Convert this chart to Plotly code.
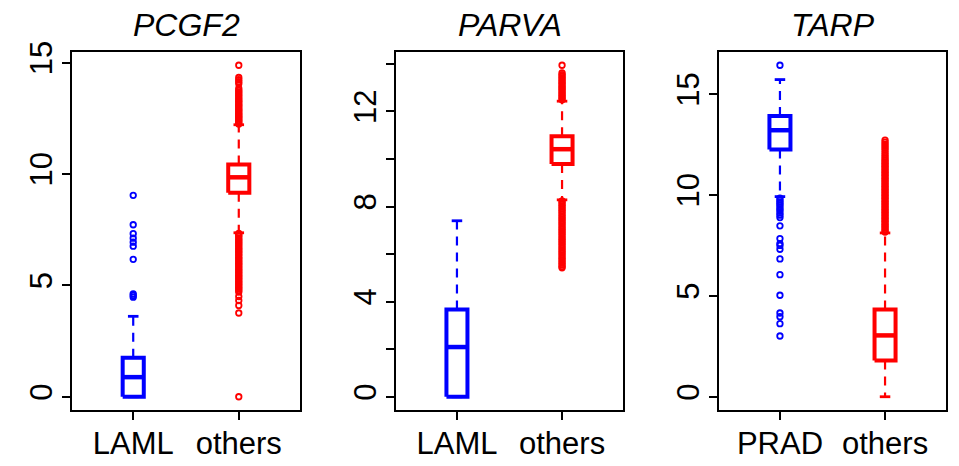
import plotly.graph_objects as go

# Gene panels and the two groups compared in each
genes = ["PCGF2", "PARVA", "TARP"]
group_labels = [["LAML", "others"], ["LAML", "others"], ["PRAD", "others"]]

# Box statistics per group: [lower whisker, Q1, median, Q3, upper whisker]
pcgf2_laml_stats = [0.0, 0.0, 0.88, 1.75, 3.61]
pcgf2_others_stats = [7.36, 9.16, 9.85, 10.43, 12.21]
parva_laml_stats = [0.0, 0.0, 2.09, 3.67, 7.40]
parva_others_stats = [8.28, 9.79, 10.41, 10.95, 12.43]
tarp_prad_stats = [9.92, 12.25, 13.21, 13.91, 15.72]
tarp_others_stats = [0.0, 1.80, 3.04, 4.33, 8.12]

# Outlying expression values per group
pcgf2_laml_out = [4.47, 4.55, 4.62, 6.17, 6.76, 6.94, 7.12, 7.32, 7.72, 9.04]
pcgf2_others_out = [
    12.24, 12.29, 12.35, 12.41, 12.46, 12.52, 12.57, 12.63, 12.69, 12.74,
    12.81, 12.87, 12.92, 12.99, 13.06, 13.11, 13.19, 13.25, 13.31, 13.38,
    13.46, 13.53, 13.6, 13.68, 13.75, 13.84, 14.05, 14.14, 14.23, 14.33,
    14.88,
    7.33, 7.26, 7.21, 7.13, 7.06, 6.99, 6.93, 6.86, 6.8, 6.72, 6.66, 6.59,
    6.52, 6.46, 6.39, 6.32, 6.25, 6.19, 6.12, 6.05, 5.98, 5.92, 5.85, 5.78,
    5.71, 5.65, 5.58, 5.51, 5.44, 5.38, 5.31, 5.24, 5.17, 5.11, 5.04, 4.97,
    4.9, 4.84, 4.77, 4.7, 4.5, 4.32, 4.1, 3.76, 0.0,
]
parva_laml_out = []
parva_others_out = [
    12.49, 12.55, 12.61, 12.67, 12.73, 12.79, 12.86, 12.92, 12.98, 13.04,
    13.1, 13.17, 13.23, 13.29, 13.36, 13.42, 13.49, 13.55, 13.62, 13.94,
    8.24, 8.18, 8.11, 8.04, 7.97, 7.9, 7.83, 7.76, 7.69, 7.61, 7.54, 7.47,
    7.4, 7.33, 7.26, 7.18, 7.11, 7.04, 6.97, 6.9, 6.83, 6.75, 6.68, 6.61,
    6.54, 6.47, 6.4, 6.32, 6.25, 6.18, 6.11, 6.04, 5.97, 5.89, 5.82, 5.75,
    5.68, 5.61, 5.54, 5.47, 5.42,
]
tarp_prad_out = [
    3.01, 3.62, 3.97, 4.15, 5.03, 6.05, 6.83, 7.31, 7.5, 7.59, 7.84, 8.47,
    8.88, 9.0, 9.1, 9.22, 9.3, 9.4, 9.5, 9.58, 9.66, 9.75, 9.84, 16.43,
]
tarp_others_out = [
    8.16, 8.23, 8.3, 8.38, 8.45, 8.52, 8.6, 8.68, 8.75, 8.83, 8.9, 8.98,
    9.06, 9.13, 9.21, 9.28, 9.36, 9.44, 9.51, 9.59, 9.66, 9.74, 9.82, 9.89,
    9.97, 10.04, 10.12, 10.2, 10.27, 10.35, 10.42, 10.5, 10.58, 10.65,
    10.73, 10.8, 10.88, 10.96, 11.03, 11.11, 11.18, 11.26, 11.34, 11.41,
    11.49, 11.56, 11.64, 11.72, 11.8, 11.9, 12.0, 12.1, 12.22, 12.32, 12.42,
    12.52, 12.62, 12.72,
]

# Y-axis ticks per panel (PARVA has minor unlabelled ticks)
y_tickvals = [[0, 5, 10, 15], [0, 2, 4, 6, 8, 10, 12, 14], [0, 5, 10, 15]]
y_ticktext = [["0", "5", "10", "15"], ["0", "", "4", "", "8", "", "12", ""],
              ["0", "5", "10", "15"]]

panel_stats = [[pcgf2_laml_stats, pcgf2_others_stats],
               [parva_laml_stats, parva_others_stats],
               [tarp_prad_stats, tarp_others_stats]]
panel_out = [[pcgf2_laml_out, pcgf2_others_out],
             [parva_laml_out, parva_others_out],
             [tarp_prad_out, tarp_others_out]]

group_colors = ["#0000FF", "#FF0000"]
FONT = "Liberation Sans, Arial, Helvetica, sans-serif"

W, H = 959, 466
x_domains = [[72 / W, 300 / W], [396 / W, 623 / W], [719 / W, 946 / W]]
y_domain = [(H - 410) / H, (H - 52) / H]

half_box = 0.1
half_staple = 0.05

fig = go.Figure()

for p in range(3):
    suffix = "" if p == 0 else str(p + 1)
    xa, ya = "x" + suffix, "y" + suffix
    all_vals = []
    for g in range(2):
        lo, q1, med, q3, hi = panel_stats[p][g]
        outs = panel_out[p][g]
        all_vals += [lo, hi] + outs
        c = g + 1
        col = group_colors[g]
        common = dict(xaxis=xa, yaxis=ya, showlegend=False, hoverinfo="skip")
        # whiskers
        for a, b in ((q3, hi), (q1, lo)):
            if a != b:
                fig.add_trace(go.Scatter(x=[c, c], y=[a, b], mode="lines",
                                         line=dict(color=col, width=2.2, dash="9px,7px"),
                                         **common))
        # staples
        for v in (hi, lo):
            fig.add_trace(go.Scatter(x=[c - half_staple, c + half_staple], y=[v, v],
                                     mode="lines", line=dict(color=col, width=2.8),
                                     **common))
        # box
        fig.add_trace(go.Scatter(
            x=[c - half_box, c + half_box, c + half_box, c - half_box, c - half_box],
            y=[q1, q1, q3, q3, q1], mode="lines",
            line=dict(color=col, width=4), **common))
        # median
        fig.add_trace(go.Scatter(x=[c - half_box, c + half_box], y=[med, med],
                                 mode="lines", line=dict(color=col, width=4.5),
                                 **common))
        # outliers
        if outs:
            fig.add_trace(go.Scatter(
                x=[c] * len(outs), y=outs, mode="markers",
                marker=dict(symbol="circle-open", size=5.5, color=col,
                            line=dict(width=1.8, color=col)),
                **common))

    lo_all, hi_all = min(all_vals), max(all_vals)
    pad = 0.04 * (hi_all - lo_all)

    axis_common = dict(showline=True, mirror=True, linecolor="black", linewidth=2,
                       showgrid=False, zeroline=False, ticks="outside", ticklen=8,
                       tickwidth=2, tickcolor="black", automargin=False,
                       tickfont=dict(family=FONT, size=31, color="black"))
    fig.layout["xaxis" + suffix] = dict(
        domain=x_domains[p], range=[0.42, 2.58], tickvals=[1, 2],
        ticktext=group_labels[p], anchor=ya, fixedrange=True,
        ticklabelstandoff=-3, **axis_common)
    fig.layout["yaxis" + suffix] = dict(
        domain=y_domain, range=[lo_all - pad, hi_all + pad],
        tickvals=y_tickvals[p], ticktext=y_ticktext[p], tickangle=-90,
        anchor=xa, fixedrange=True, ticklabelstandoff=-2, **axis_common)

    fig.add_annotation(text="<i>" + genes[p] + "</i>", xref=xa + " domain",
                       yref=ya + " domain", x=0.5, y=1, yanchor="bottom",
                       yshift=7, showarrow=False,
                       font=dict(family=FONT, size=32, color="black"))

fig.update_layout(width=W, height=H, margin=dict(l=0, r=0, t=0, b=0),
                  paper_bgcolor="white", plot_bgcolor="white", template="none")

fig.write_html("out.html", config={"displayModeBar": False})
